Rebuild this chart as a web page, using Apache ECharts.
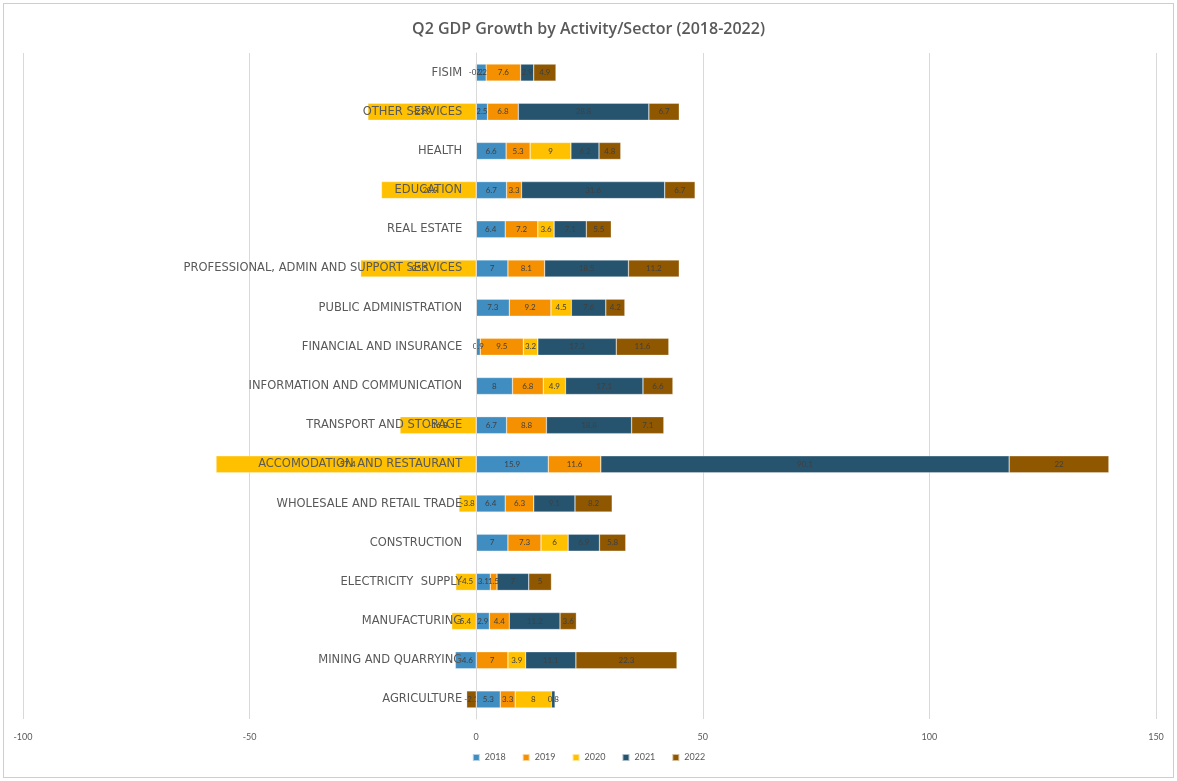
<!DOCTYPE html>
<html>
<head>
<meta charset="utf-8">
<script src="https://cdn.jsdelivr.net/npm/echarts@6/dist/echarts.min.js"></script>
<style>
html,body{margin:0;padding:0;background:#fff;}
#frame{position:absolute;left:3px;top:3px;width:1169px;height:773px;border:1px solid #E3CF8E;}
#chart{position:absolute;left:0;top:0;width:1177px;height:781px;}
</style>
</head>
<body>
<div id="frame"></div>
<div id="chart"></div>
<script>
const categories = [
  "AGRICULTURE", "MINING AND QUARRYING", "MANUFACTURING", "ELECTRICITY  SUPPLY",
  "CONSTRUCTION", "WHOLESALE AND RETAIL TRADE", "ACCOMODATION AND RESTAURANT",
  "TRANSPORT AND STORAGE", "INFORMATION AND COMMUNICATION", "FINANCIAL AND INSURANCE",
  "PUBLIC ADMINISTRATION", "PROFESSIONAL, ADMIN AND SUPPORT SERVICES", "REAL ESTATE",
  "EDUCATION", "HEALTH", "OTHER SERVICES", "FISIM"
];
const years = ["2018", "2019", "2020", "2021", "2022"];
const v2018 = [5.3, -4.6, 2.9, 3.1, 7, 6.4, 15.9, 6.7, 8, 0.9, 7.3, 7, 6.4, 6.7, 6.6, 2.5, 2.2];
const v2019 = [3.3, 7, 4.4, 1.5, 7.3, 6.3, 11.6, 8.8, 6.8, 9.5, 9.2, 8.1, 7.2, 3.3, 5.3, 6.8, 7.6];
const v2020 = [8, 3.9, -5.4, -4.5, 6, -3.8, -57.4, -16.8, 4.9, 3.2, 4.5, -25.5, 3.6, -20.9, 9, -23.9, -0.2];
const v2021 = [0.8, 11.1, 11.2, 7.0, 6.9, 9.1, 90.1, 18.8, 17.1, 17.3, 7.6, 18.5, 7.1, 31.6, 6.2, 28.8, 2.9];
const v2022 = [-2.1, 22.3, 3.6, 5, 5.8, 8.2, 22, 7.1, 6.6, 11.6, 4.2, 11.2, 5.5, 6.7, 4.8, 6.7, 4.9];
const xTicks = [-100, -50, 0, 50, 100, 150];

const seriesValues = [v2018, v2019, v2020, v2021, v2022];
const colors = ["#3F8DC1", "#F59100", "#FFC000", "#26546F", "#8F5700"];
const FONT = "Lato, 'Noto Sans', sans-serif";
const CAT_FONT = "'DejaVu Sans', Lato, sans-serif";

const GRID_LEFT = 23, GRID_RIGHT = 21, W = 1177;
// shift the category axis from the grid's left edge to the zero line
const zeroShift = (W - GRID_LEFT - GRID_RIGHT) * (0 - xTicks[0]) / (xTicks[xTicks.length - 1] - xTicks[0]);

const chart = echarts.init(document.getElementById('chart'), null, {renderer: 'canvas'});
chart.setOption({
  animation: false,
  color: colors,
  textStyle: {fontFamily: FONT},
  title: {
    text: "Q2 GDP Growth by Activity/Sector (2018-2022)",
    left: 'center',
    top: 16,
    textStyle: {fontFamily: "'Open Sans', Lato, sans-serif", fontSize: 16, fontWeight: 600, color: '#595959'}
  },
  legend: {
    data: years,
    bottom: 14,
    left: 'center',
    itemWidth: 7,
    itemHeight: 7,
    itemGap: 16,
    icon: 'rect',
    textStyle: {fontFamily: FONT, fontSize: 9, color: '#595959'}
  },
  grid: {left: GRID_LEFT, right: GRID_RIGHT, top: 53, bottom: 62, containLabel: false, outerBoundsMode: 'none'},
  xAxis: {
    type: 'value',
    min: xTicks[0],
    max: xTicks[xTicks.length - 1],
    interval: 50,
    axisLine: {show: false},
    axisTick: {show: false},
    splitLine: {show: true, lineStyle: {color: '#D9D9D9', width: 1}},
    axisLabel: {fontFamily: FONT, fontSize: 9, color: '#595959', margin: 14}
  },
  yAxis: {
    type: 'category',
    data: categories,
    position: 'left',
    offset: -zeroShift,
    z: 10,
    axisLine: {show: true, onZero: false, lineStyle: {color: '#D9D9D9', width: 1}},
    axisTick: {show: false},
    axisLabel: {fontFamily: CAT_FONT, fontSize: 11.5, color: '#595959', margin: 14}
  },
  series: years.map((y, i) => ({
    name: y,
    type: 'bar',
    stack: 'total',
    barWidth: 17,
    data: seriesValues[i],
    itemStyle: {color: colors[i], borderColor: 'rgba(255,255,255,0.6)', borderWidth: 0.5},
    label: {
      show: true,
      position: 'inside',
      fontFamily: FONT,
      fontSize: 8,
      color: '#404040',
      formatter: p => String(p.value)
    }
  }))
});
</script>
</body>
</html>
